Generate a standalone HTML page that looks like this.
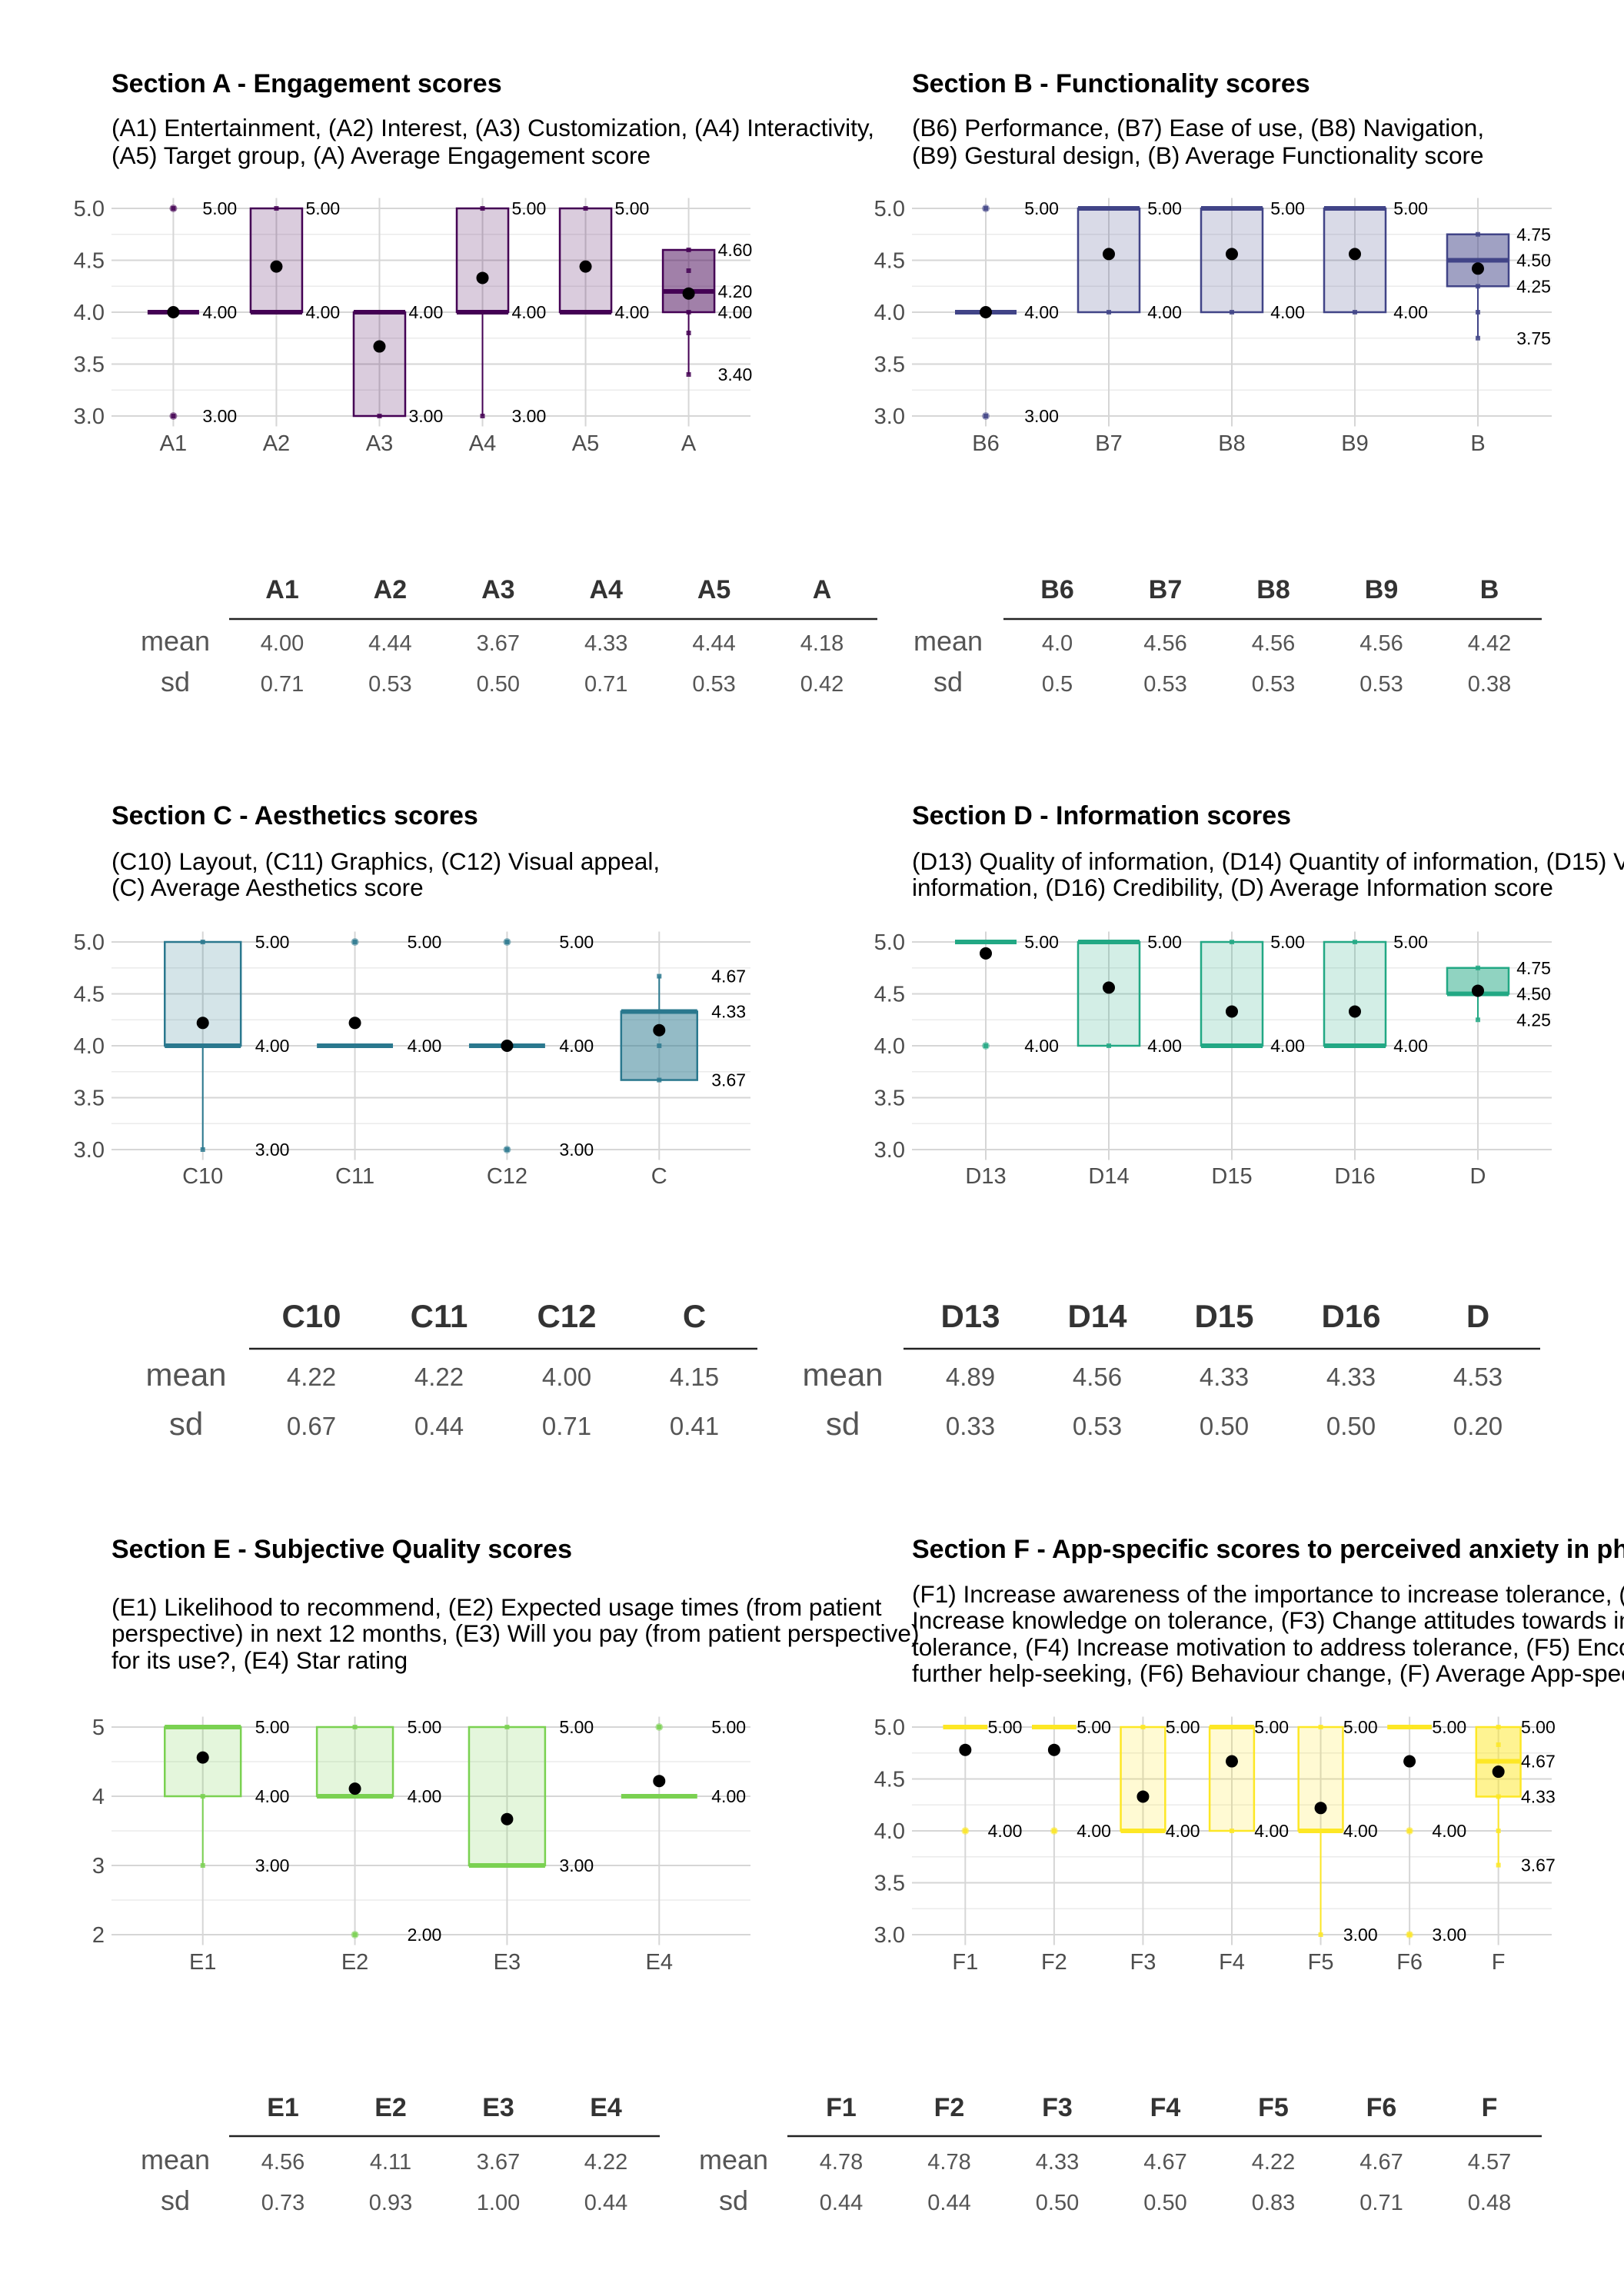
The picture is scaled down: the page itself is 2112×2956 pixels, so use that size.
<!DOCTYPE html>
<html><head><meta charset="utf-8"><title>App quality scores</title>
<style>
html,body{margin:0;padding:0;background:#fff;overflow:hidden;width:2112px;height:2956px}
svg{display:block}
text{font-family:"Liberation Sans",Arial,sans-serif}
</style></head>
<body>
<svg id="page" xmlns="http://www.w3.org/2000/svg" width="2112" height="2956" viewBox="0 0 2112 2956">
<g font-family="Liberation Sans, Arial, sans-serif" fill="#000">
<text x="145" y="120" font-size="34" font-weight="bold">Section A - Engagement scores</text>
<text font-size="31.5"><tspan x="145" y="177">(A1) Entertainment, (A2) Interest, (A3) Customization, (A4) Interactivity,</tspan><tspan x="145" y="213">(A5) Target group, (A) Average Engagement score</tspan></text>
<text x="1186" y="120" font-size="34" font-weight="bold">Section B - Functionality scores</text>
<text font-size="31.5"><tspan x="1186" y="177">(B6) Performance, (B7) Ease of use, (B8) Navigation,</tspan><tspan x="1186" y="213">(B9) Gestural design, (B) Average Functionality score</tspan></text>
<text x="145" y="1072" font-size="34" font-weight="bold">Section C - Aesthetics scores</text>
<text font-size="31.5"><tspan x="145" y="1131">(C10) Layout, (C11) Graphics, (C12) Visual appeal,</tspan><tspan x="145" y="1165">(C) Average Aesthetics score</tspan></text>
<text x="1186" y="1072" font-size="34" font-weight="bold">Section D - Information scores</text>
<text font-size="31.5"><tspan x="1186" y="1131">(D13) Quality of information, (D14) Quantity of information, (D15) Visual</tspan><tspan x="1186" y="1165">information, (D16) Credibility, (D) Average Information score</tspan></text>
<text x="145" y="2026" font-size="34" font-weight="bold">Section E - Subjective Quality scores</text>
<text font-size="31.5"><tspan x="145" y="2101">(E1) Likelihood to recommend, (E2) Expected usage times (from patient</tspan><tspan x="145" y="2135">perspective) in next 12 months, (E3) Will you pay (from patient perspective)</tspan><tspan x="145" y="2170">for its use?, (E4) Star rating</tspan></text>
<text x="1186" y="2026" font-size="34" font-weight="bold">Section F - App-specific scores to perceived anxiety in physical activity</text>
<text font-size="31.5"><tspan x="1186" y="2084">(F1) Increase awareness of the importance to increase tolerance, (F2)</tspan><tspan x="1186" y="2118">Increase knowledge on tolerance, (F3) Change attitudes towards improving</tspan><tspan x="1186" y="2153">tolerance, (F4) Increase motivation to address tolerance, (F5) Encourage</tspan><tspan x="1186" y="2187">further help-seeking, (F6) Behaviour change, (F) Average App-specific score</tspan></text>
</g>
</svg>
<script>
// ---------- data: Section A ----------
const aCats = ['A1','A2','A3','A4','A5','A'];
const aQ1 = [4,4,3,4,4,4.0];
const aMed = [4,4,4,4,4,4.2];
const aQ3 = [4,5,4,5,5,4.6];
const aLo = [4,4,3,3,4,3.4];
const aHi = [4,5,4,5,5,4.6];
const aMean = [4.00,4.44,3.67,4.33,4.44,4.18];
const aOut = [[5,3],[],[],[],[],[]];
const aPts = [[4],[5,4],[4,3],[5,4,3],[5,4],[4.6,4.4,4.2,4.0,3.8,3.4]];
const aTabMean = ['4.00','4.44','3.67','4.33','4.44','4.18'];
const aTabSd = ['0.71','0.53','0.50','0.71','0.53','0.42'];
// ---------- data: Section B ----------
const bCats = ['B6','B7','B8','B9','B'];
const bQ1 = [4,4,4,4,4.25];
const bMed = [4,5,5,5,4.5];
const bQ3 = [4,5,5,5,4.75];
const bLo = [4,4,4,4,3.75];
const bHi = [4,5,5,5,4.75];
const bMean = [4.0,4.56,4.56,4.56,4.42];
const bOut = [[5,3],[],[],[],[]];
const bPts = [[4],[5,4],[5,4],[5,4],[4.75,4.5,4.25,4.0,3.75]];
const bTabMean = ['4.0','4.56','4.56','4.56','4.42'];
const bTabSd = ['0.5','0.53','0.53','0.53','0.38'];
// ---------- data: Section C ----------
const cCats = ['C10','C11','C12','C'];
const cQ1 = [4,4,4,3.67];
const cMed = [4,4,4,4.33];
const cQ3 = [5,4,4,4.33];
const cLo = [3,4,4,3.67];
const cHi = [5,4,4,4.67];
const cMean = [4.22,4.22,4.00,4.15];
const cOut = [[],[5],[5,3],[]];
const cPts = [[5,4,3],[4],[4],[4.67,4.33,4.0,3.67]];
const cTabMean = ['4.22','4.22','4.00','4.15'];
const cTabSd = ['0.67','0.44','0.71','0.41'];
// ---------- data: Section D ----------
const dCats = ['D13','D14','D15','D16','D'];
const dQ1 = [5,4,4,4,4.5];
const dMed = [5,5,4,4,4.5];
const dQ3 = [5,5,5,5,4.75];
const dLo = [5,4,4,4,4.25];
const dHi = [5,5,5,5,4.75];
const dMean = [4.89,4.56,4.33,4.33,4.53];
const dOut = [[4],[],[],[],[]];
const dPts = [[5],[5,4],[5,4],[5,4],[4.75,4.5,4.25]];
const dTabMean = ['4.89','4.56','4.33','4.33','4.53'];
const dTabSd = ['0.33','0.53','0.50','0.50','0.20'];
// ---------- data: Section E ----------
const eCats = ['E1','E2','E3','E4'];
const eQ1 = [4,4,3,4];
const eMed = [5,4,3,4];
const eQ3 = [5,5,5,4];
const eLo = [3,4,3,4];
const eHi = [5,5,5,4];
const eMean = [4.56,4.11,3.67,4.22];
const eOut = [[],[2],[],[5]];
const ePts = [[5,4,3],[5,4],[5,3],[4]];
const eTabMean = ['4.56','4.11','3.67','4.22'];
const eTabSd = ['0.73','0.93','1.00','0.44'];
// ---------- data: Section F ----------
const fCats = ['F1','F2','F3','F4','F5','F6','F'];
const fQ1 = [5,5,4,4,4,5,4.33];
const fMed = [5,5,4,5,4,5,4.67];
const fQ3 = [5,5,5,5,5,5,5.0];
const fLo = [5,5,4,4,3,5,3.67];
const fHi = [5,5,5,5,5,5,5.0];
const fMean = [4.78,4.78,4.33,4.67,4.22,4.67,4.57];
const fOut = [[4],[4],[],[],[],[4,3],[]];
const fPts = [[5],[5],[5,4],[5,4],[5,4,3],[5],[5,4.83,4.67,4.33,4.0,3.67]];
const fTabMean = ['4.78','4.78','4.33','4.67','4.22','4.67','4.57'];
const fTabSd = ['0.44','0.44','0.50','0.50','0.83','0.71','0.48'];
// ---------- axis ticks ----------
const stdTickVals = [3.0,3.5,4.0,4.5,5.0];
const stdTickLabels = ['3.0','3.5','4.0','4.5','5.0'];
const stdMinor = [3.25,3.75,4.25,4.75];
const eTickVals = [2,3,4,5];
const eTickLabels = ['2','3','4','5'];
const eMinor = [2.5,3.5,4.5];

const NS = 'http://www.w3.org/2000/svg';
const svg = document.getElementById('page');
function mk(tag, attrs, parent){
  const el = document.createElementNS(NS, tag);
  for (const k in attrs) el.setAttribute(k, attrs[k]);
  (parent || svg).appendChild(el);
  return el;
}

function drawChart(key, cfg, d){
  const g = mk('g', {});
  
  
  const n = d.cats.length;
  const step = (cfg.right - cfg.left) / (n - 1 + 1.2);
  const x = i => cfg.left + step * (0.6 + i);
  const yr = cfg.ymax - cfg.ymin;
  const y = v => cfg.top + (cfg.ymax - v) / yr * (cfg.bottom - cfg.top);
  const pTop = y(cfg.ymax + yr * 0.05), pBot = y(cfg.ymin - yr * 0.05);
  cfg.minor.forEach(v => {
    const l = mk('line', {x1: cfg.left, x2: cfg.right, y1: y(v), y2: y(v), stroke: '#ebebeb', 'stroke-width': 1.5}, g);
    
    
  });
  cfg.ticks.forEach((v, i) => {
    const l = mk('line', {x1: cfg.left, x2: cfg.right, y1: y(v), y2: y(v), stroke: '#d6d6d6', 'stroke-width': 2}, g);
    
    
    const t = mk('text', {x: cfg.left - 9, y: y(v) + 10, 'text-anchor': 'end', 'font-size': 29, fill: '#4d4d4d'}, g);
    
    
    t.textContent = cfg.tickLabels[i];
  });
  d.cats.forEach((c, i) => {
    const l = mk('line', {x1: x(i), x2: x(i), y1: pTop, y2: pBot, stroke: '#d6d6d6', 'stroke-width': 2}, g);
    
    
    const t = mk('text', {x: x(i), y: cfg.xlabY, 'text-anchor': 'middle', 'font-size': 29, fill: '#4d4d4d'}, g);
    
    
    t.textContent = c;
  });
  const hw = step * 0.25;
  d.cats.forEach((c, i) => {
    const cx = x(i);
    const isAvg = i === n - 1;
    const bg = mk('g', {}, g);
    
    
    if (d.hi[i] > d.q3[i]) {
      const w = mk('line', {x1: cx, x2: cx, y1: y(d.q3[i]), y2: y(d.hi[i]), stroke: cfg.color, 'stroke-width': 2}, bg);
      
      
    }
    if (d.lo[i] < d.q1[i]) {
      const w = mk('line', {x1: cx, x2: cx, y1: y(d.q1[i]), y2: y(d.lo[i]), stroke: cfg.color, 'stroke-width': 2}, bg);
      
      
    }
    if (d.q3[i] > d.q1[i]) {
      const r = mk('rect', {x: cx - hw, y: y(d.q3[i]), width: hw * 2, height: y(d.q1[i]) - y(d.q3[i]), fill: cfg.color, 'fill-opacity': isAvg ? 0.5 : 0.2, stroke: cfg.color, 'stroke-width': 2.5}, bg);
      
      
    }
    const m = mk('line', {x1: cx - hw, x2: cx + hw, y1: y(d.med[i]), y2: y(d.med[i]), stroke: cfg.color, 'stroke-width': 6}, bg);
    
    
    d.out[i].forEach(v => {
      const o = mk('circle', {cx: cx, cy: y(v), r: 5, fill: cfg.color, 'fill-opacity': 0.5}, bg);
      
      
    });
    d.pts[i].concat(d.out[i]).forEach(v => {
      const p = mk('rect', {x: cx - 3, y: y(v) - 3, width: 6, height: 6, fill: cfg.color, 'fill-opacity': 0.85}, bg);
      
      
    });
    const mc = mk('circle', {cx: cx, cy: y(d.mean[i]), r: 8, fill: '#000'}, bg);
    
    
    const vals = [d.lo[i], d.q1[i], d.med[i], d.q3[i], d.hi[i]].concat(d.out[i]);
    const uniq = [...new Set(vals.map(v => v.toFixed(2)))];
    uniq.forEach(s => {
      const t = mk('text', {x: cx + 0.47 * step - 25, y: y(parseFloat(s)) + 8, 'font-size': 23, fill: '#000'}, bg);
      
      
      t.textContent = s;
    });
  });
}

function drawTable(key, cfg, cats, means, sds){
  const g = mk('g', {});
  
  
  cats.forEach((c, i) => {
    const cx = cfg.x0 + cfg.dx * i;
    const h = mk('text', {x: cx, y: cfg.hy, 'text-anchor': 'middle', 'font-size': cfg.hs, 'font-weight': 'bold', fill: '#333'}, g);
    
    
    h.textContent = c;
    const m = mk('text', {x: cx, y: cfg.my, 'text-anchor': 'middle', 'font-size': cfg.ns, fill: '#555'}, g);
    
    
    m.textContent = means[i];
    const s = mk('text', {x: cx, y: cfg.sy, 'text-anchor': 'middle', 'font-size': cfg.ns, fill: '#555'}, g);
    
    
    s.textContent = sds[i];
  });
  const r = mk('line', {x1: cfg.r1, x2: cfg.r2, y1: cfg.ry, y2: cfg.ry, stroke: '#222', 'stroke-width': 2.5}, g);
  
  
  const ml = mk('text', {x: cfg.lx, y: cfg.my, 'text-anchor': 'middle', 'font-size': cfg.ls, fill: '#555'}, g);
  
  
  ml.textContent = 'mean';
  const sl = mk('text', {x: cfg.lx, y: cfg.sy, 'text-anchor': 'middle', 'font-size': cfg.ls, fill: '#555'}, g);
  
  
  sl.textContent = 'sd';
}

const L = {left: 145, right: 976}, R = {left: 1186, right: 2018};
const std = {ymin: 3, ymax: 5, ticks: stdTickVals, tickLabels: stdTickLabels, minor: stdMinor};
drawChart('section-a', Object.assign({}, L, std, {top: 271, bottom: 541, xlabY: 586, color: '#440154'}),
  {cats: aCats, q1: aQ1, med: aMed, q3: aQ3, lo: aLo, hi: aHi, mean: aMean, out: aOut, pts: aPts});
drawChart('section-b', Object.assign({}, R, std, {top: 271, bottom: 541, xlabY: 586, color: '#414487'}),
  {cats: bCats, q1: bQ1, med: bMed, q3: bQ3, lo: bLo, hi: bHi, mean: bMean, out: bOut, pts: bPts});
drawChart('section-c', Object.assign({}, L, std, {top: 1225, bottom: 1495, xlabY: 1539, color: '#2a788e'}),
  {cats: cCats, q1: cQ1, med: cMed, q3: cQ3, lo: cLo, hi: cHi, mean: cMean, out: cOut, pts: cPts});
drawChart('section-d', Object.assign({}, R, std, {top: 1225, bottom: 1495, xlabY: 1539, color: '#22a884'}),
  {cats: dCats, q1: dQ1, med: dMed, q3: dQ3, lo: dLo, hi: dHi, mean: dMean, out: dOut, pts: dPts});
drawChart('section-e', Object.assign({}, L, {ymin: 2, ymax: 5, ticks: eTickVals, tickLabels: eTickLabels, minor: eMinor}, {top: 2246, bottom: 2516, xlabY: 2561, color: '#7ad151'}),
  {cats: eCats, q1: eQ1, med: eMed, q3: eQ3, lo: eLo, hi: eHi, mean: eMean, out: eOut, pts: ePts});
drawChart('section-f', Object.assign({}, R, std, {top: 2246, bottom: 2516, xlabY: 2561, color: '#fde725'}),
  {cats: fCats, q1: fQ1, med: fMed, q3: fQ3, lo: fLo, hi: fHi, mean: fMean, out: fOut, pts: fPts});

const t13 = {hy: 778, ry: 805, my: 846, sy: 899, hs: 34, ns: 29, ls: 36};
drawTable('section-a', Object.assign({}, t13, {x0: 367, dx: 140.4, lx: 228, r1: 298, r2: 1141}), aCats, aTabMean, aTabSd);
drawTable('section-b', Object.assign({}, t13, {x0: 1375, dx: 140.5, lx: 1233, r1: 1305, r2: 2005}), bCats, bTabMean, bTabSd);
const t2 = {hy: 1726, ry: 1754, my: 1802, sy: 1866, hs: 42, ns: 33, ls: 42};
drawTable('section-c', Object.assign({}, t2, {x0: 405, dx: 166, lx: 242, r1: 324, r2: 985}), cCats, cTabMean, cTabSd);
drawTable('section-d', Object.assign({}, t2, {x0: 1262, dx: 165, lx: 1096, r1: 1175, r2: 2003}), dCats, dTabMean, dTabSd);
const t3 = {hy: 2752, ry: 2778, my: 2821, sy: 2874, hs: 34, ns: 29, ls: 36};
drawTable('section-e', Object.assign({}, t3, {x0: 368, dx: 140, lx: 228, r1: 298, r2: 858}), eCats, eTabMean, eTabSd);
drawTable('section-f', Object.assign({}, t3, {x0: 1094, dx: 140.5, lx: 954, r1: 1024, r2: 2005}), fCats, fTabMean, fTabSd);
</script>
</body></html>
